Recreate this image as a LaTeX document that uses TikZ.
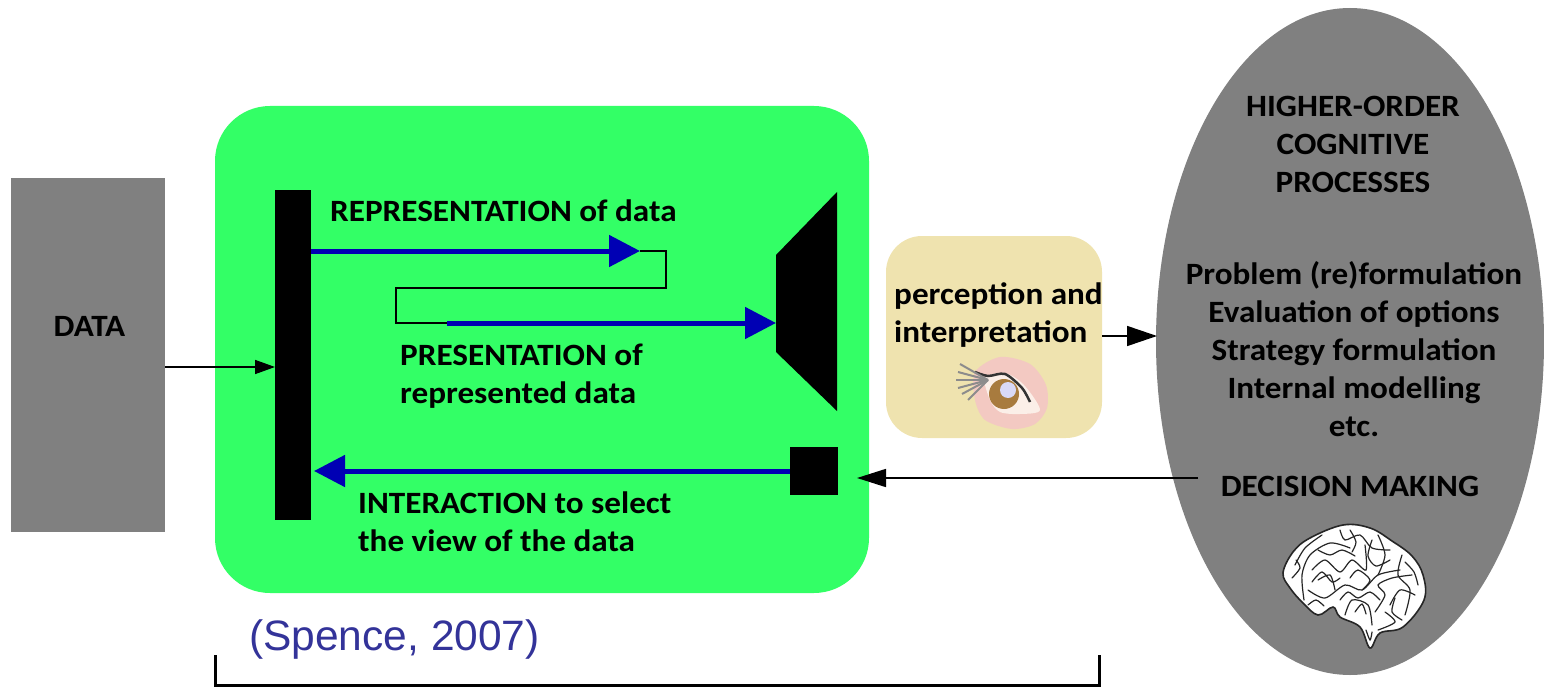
\documentclass[tikz,border=0pt]{standalone}
\usepackage{fontspec}
\setmainfont[BoldFeatures={FakeStretch=1.07}]{Carlito}
\newfontfamily\citefont{Liberation Sans}
\usetikzlibrary{arrows.meta, shapes.geometric}
\definecolor{boxgreen}{HTML}{33FF66}
\definecolor{boxgrey}{HTML}{808080}
\definecolor{boxbeige}{HTML}{EFE3AF}
\definecolor{flowblue}{HTML}{0000B4}
\definecolor{citeblue}{HTML}{333399}
\definecolor{eyeskin}{HTML}{F3C9C2}
\definecolor{eyewhite}{HTML}{FBEFE8}
\definecolor{eyeiris}{HTML}{A87B3E}
\tikzset{
  label text/.style={font=\fontsize{31}{38}\selectfont\bfseries, inner sep=0pt, align=left, anchor=west},
  mid text/.style={font=\fontsize{31}{38}\selectfont\bfseries, inner sep=0pt, align=center},
  solid box/.style={fill=black, inner sep=0pt, minimum width=#1},
  flow/.style={draw=flowblue, line width=5pt, -{Triangle[length=31pt,width=31pt,fill=flowblue]}},
  thin flow/.style 2 args={draw=black, line width=1.6pt, -{Triangle[length=#1,width=#2,fill=black]}},
  link/.style={draw=black, line width=1.6pt},
  sulcus/.style={draw=black!85, line width=1.2pt, line cap=round}
}
\begin{document}
\begin{tikzpicture}[x=1pt, y=-1pt]
\useasboundingbox (0,0) rectangle (1544,687);
% boxes
\node[fill=boxgrey, inner sep=0pt, minimum width=154pt, minimum height=354pt] (data) at (88,355) {};
\node[fill=boxgreen, rounded corners=55pt, inner sep=0pt, minimum width=654pt, minimum height=487pt] (vis) at (542,349.5) {};
\node[fill=boxbeige, rounded corners=36pt, inner sep=0pt, minimum width=216pt, minimum height=202pt] (percept) at (994,337) {};
\node[ellipse, fill=boxgrey, inner sep=0pt, minimum width=388pt, minimum height=667pt] (mind) at (1350,341.5) {};
\node[solid box=36pt, minimum height=330pt] (bar) at (293,355) {};
\node[solid box=48pt, minimum height=48pt] (control) at (814,471) {};
\fill[black] (837,192) -- (776,255) -- (776,352) -- (837,411) -- cycle;
\coordinate (screen) at (776,323);
% connectors
\coordinate (barin) at (275,367);
\coordinate (fold) at (640,251);
\coordinate (foldend) at (447,323);
\coordinate (perceptout) at (1102,336);
\coordinate (mindin) at (1157,336);
\coordinate (decide) at (1198,478);
\coordinate (back) at (857,478);
\coordinate (barback) at (314,471);
\draw[thin flow={20pt}{14pt}] (data.east |- barin) -- (barin);
\draw[flow] (bar.east |- fold) -- (fold);
\draw[link] (fold) -- (666,251) -- (666,288) -- (396,288) -- (396,323) -- (foldend);
\draw[flow] (foldend) -- (screen);
\draw[flow] (control.west) -- (barback);
\draw[thin flow={30pt}{20pt}] (perceptout) -- (mindin);
\draw[thin flow={29pt}{18pt}] (decide) -- (back);
% bracket
\coordinate (bl) at (215,655);
\coordinate (br) at (1099,655);
\draw[line width=3pt] (bl) -- (215,685) -- (1099,685) -- (br);
% texts
\node[mid text] (datatxt) at (89.5,326) {DATA};
\node[label text] (repr) at (330,211) {REPRESENTATION of data};
\node[label text] (pres) at (400,376) {PRESENTATION of\\represented data};
\node[label text] (inter) at (358,522) {INTERACTION to select\\the view of the data};
\node[label text] (perc) at (894,315) {perception and\\interpretation};
\node[mid text] (hoc) at (1353,144.5) {HIGHER-ORDER\\COGNITIVE\\PROCESSES};
\node[mid text] (tasks) at (1354,349.5) {Problem (re)formulation\\Evaluation of options\\Strategy formulation\\Internal modelling\\etc.};
\node[mid text] (dm) at (1350,486) {DECISION MAKING};
\node[font=\citefont\fontsize{42.5}{46}\selectfont, text=citeblue, inner sep=0pt, anchor=west] (cite) at (249,640) {(Spence, 2007)};
% eye
\fill[eyeskin] plot[smooth cycle] coordinates {(975,372) (1000,357) (1030,364) (1046,385) (1047,408) (1035,424) (1012,429) (985,420) (975,400)};
\fill[eyewhite] plot[smooth cycle] coordinates {(985,378) (1005,373) (1024,385) (1040,410) (1020,414) (1000,412) (990,400)};
\fill[eyeiris] (1004,394) circle (15pt);
\fill[black!20!blue!15!white] (1008,390) circle (8pt);
\draw[black!80, line width=2.5pt] plot[smooth] coordinates {(975,372) (988,376) (1005,374) (1022,388) (1030,402)};
\foreach \lx/\ly in {960/364,958/372,956/380,958/388,962/394,968/400}
  \draw[black!45, line width=2pt] (\lx,\ly) -- (988,380);
% brain
\fill[white] plot[smooth cycle, tension=0.6] coordinates {(1283,573) (1293,552) (1310,538) (1343,525) (1370,528) (1392,541) (1412,556) (1423,575) (1424,600) (1403,627) (1380,633) (1370,648) (1360,627) (1340,617) (1333,607) (1318,615) (1303,603) (1290,588)};
\draw[sulcus, line width=1.6pt] plot[smooth cycle, tension=0.6] coordinates {(1283,573) (1293,552) (1310,538) (1343,525) (1370,528) (1392,541) (1412,556) (1423,575) (1424,600) (1403,627) (1380,633) (1370,648) (1360,627) (1340,617) (1333,607) (1318,615) (1303,603) (1290,588)};
\draw[sulcus] plot[smooth] coordinates {(1304,600) (1302,575) (1310,555) (1330,543) (1350,548)};
\draw[sulcus] plot[smooth] coordinates {(1308,590) (1325,598) (1345,585) (1362,590) (1378,575) (1400,570)};
\draw[sulcus] plot[smooth] coordinates {(1312,570) (1325,560) (1340,572) (1352,560) (1366,570) (1365,545)};
\draw[sulcus] plot[smooth] coordinates {(1345,615) (1352,600) (1368,605) (1372,625)};
\draw[sulcus] plot[smooth] coordinates {(1378,575) (1385,555) (1378,535)};
\draw[sulcus] plot[smooth] coordinates {(1390,605) (1400,590) (1415,595)};
\draw[sulcus] plot[smooth] coordinates {(1375,612) (1385,595) (1378,585) (1392,578) (1412,575)};
\draw[sulcus] plot[smooth] coordinates {(1295,565) (1305,548) (1322,535)};
\draw[sulcus] plot[smooth] coordinates {(1340,530) (1345,540) (1360,535) (1372,548) (1390,550)};
\draw[sulcus] plot[smooth] coordinates {(1402,555) (1398,575) (1410,590) (1405,615)};
\draw[sulcus] plot[smooth] coordinates {(1335,590) (1330,575) (1318,580)};
\draw[sulcus] plot[smooth] coordinates {(1378,630) (1395,622) (1385,612)};
\draw[sulcus] plot[smooth] coordinates {(1292,578) (1300,568) (1296,560)};
\draw[sulcus] plot[smooth] coordinates {(1312,582) (1322,572) (1332,582) (1340,578)};
\draw[sulcus] plot[smooth] coordinates {(1318,550) (1330,555) (1342,550) (1355,556)};
\draw[sulcus] plot[smooth] coordinates {(1350,530) (1356,542) (1352,552)};
\draw[sulcus] plot[smooth] coordinates {(1372,540) (1368,556) (1376,566) (1390,560)};
\draw[sulcus] plot[smooth] coordinates {(1405,562) (1414,572) (1418,585)};
\draw[sulcus] plot[smooth] coordinates {(1350,578) (1358,570) (1370,580) (1362,590)};
\draw[sulcus] plot[smooth] coordinates {(1340,600) (1348,592) (1358,598) (1370,592) (1380,600)};
\draw[sulcus] plot[smooth] coordinates {(1355,612) (1362,604) (1366,614)};
\draw[sulcus] plot[smooth] coordinates {(1395,598) (1392,612) (1402,620)};
\draw[sulcus] plot[smooth] coordinates {(1308,605) (1316,600) (1324,606)};
\draw[sulcus] plot[smooth] coordinates {(1366,630) (1370,640) (1372,632)};
\end{tikzpicture}
\end{document}
